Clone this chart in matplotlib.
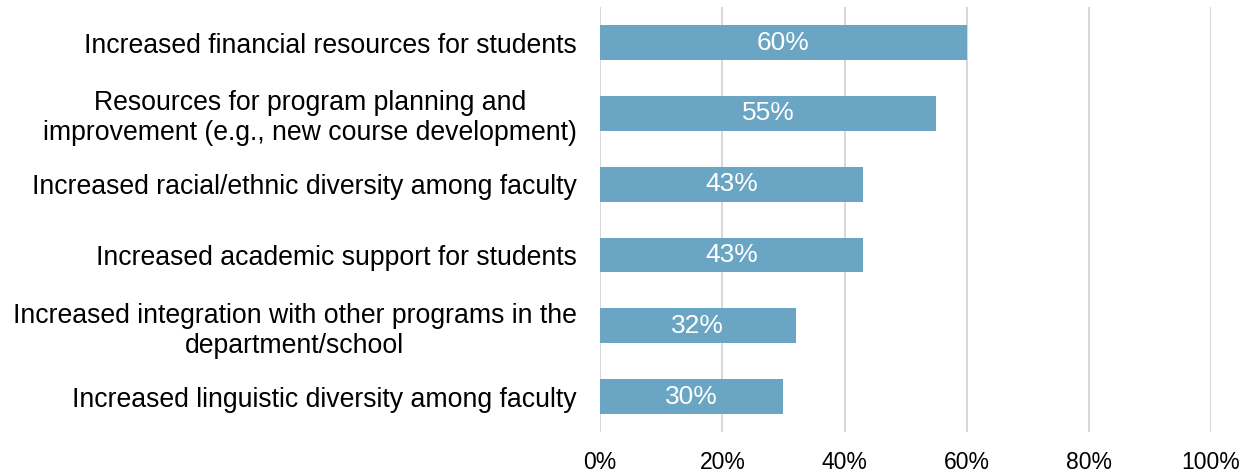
import matplotlib.pyplot as plt
from matplotlib.ticker import FuncFormatter

categories = [
    "Increased financial resources for students",
    "Resources for program planning and\nimprovement (e.g., new course development)",
    "Increased racial/ethnic diversity among faculty",
    "Increased academic support for students",
    "Increased integration with other programs in the\ndepartment/school",
    "Increased linguistic diversity among faculty",
]
values = [60, 55, 43, 43, 32, 30]
x_ticks = [0, 20, 40, 60, 80, 100]

plt.rcParams['font.family'] = ['Liberation Sans', 'DejaVu Sans']

fig = plt.figure(figsize=(12.53, 4.75), dpi=100)
ax = fig.add_axes([0.479, 0.0905, 0.4875, 0.8945])

pos = list(range(len(categories)))
bars = ax.barh(pos, values, height=0.49, color='#6aa6c4', zorder=3)
for b, v in zip(bars, values):
    ax.text(v / 2, b.get_y() + b.get_height() / 2, f"{v}%", ha='center', va='center',
            color='white', fontsize=19, zorder=4)

ax.set_ylim(len(categories) - 0.5, -0.5)
ax.set_xlim(0, 100)
ax.set_yticks(pos)
ax.set_yticklabels(categories, fontsize=19.2, multialignment='center')
ax.set_xticks(x_ticks)
ax.xaxis.set_major_formatter(FuncFormatter(lambda x, _: f"{x:.0f}%"))
ax.tick_params(axis='x', labelsize=16.5, length=0, pad=14)
ax.tick_params(axis='y', length=0, pad=17)
ax.grid(axis='x', color='#d4d4d4', linewidth=1.3, zorder=0)
for s in ax.spines.values():
    s.set_visible(False)

plt.savefig('out.png', dpi=100)
